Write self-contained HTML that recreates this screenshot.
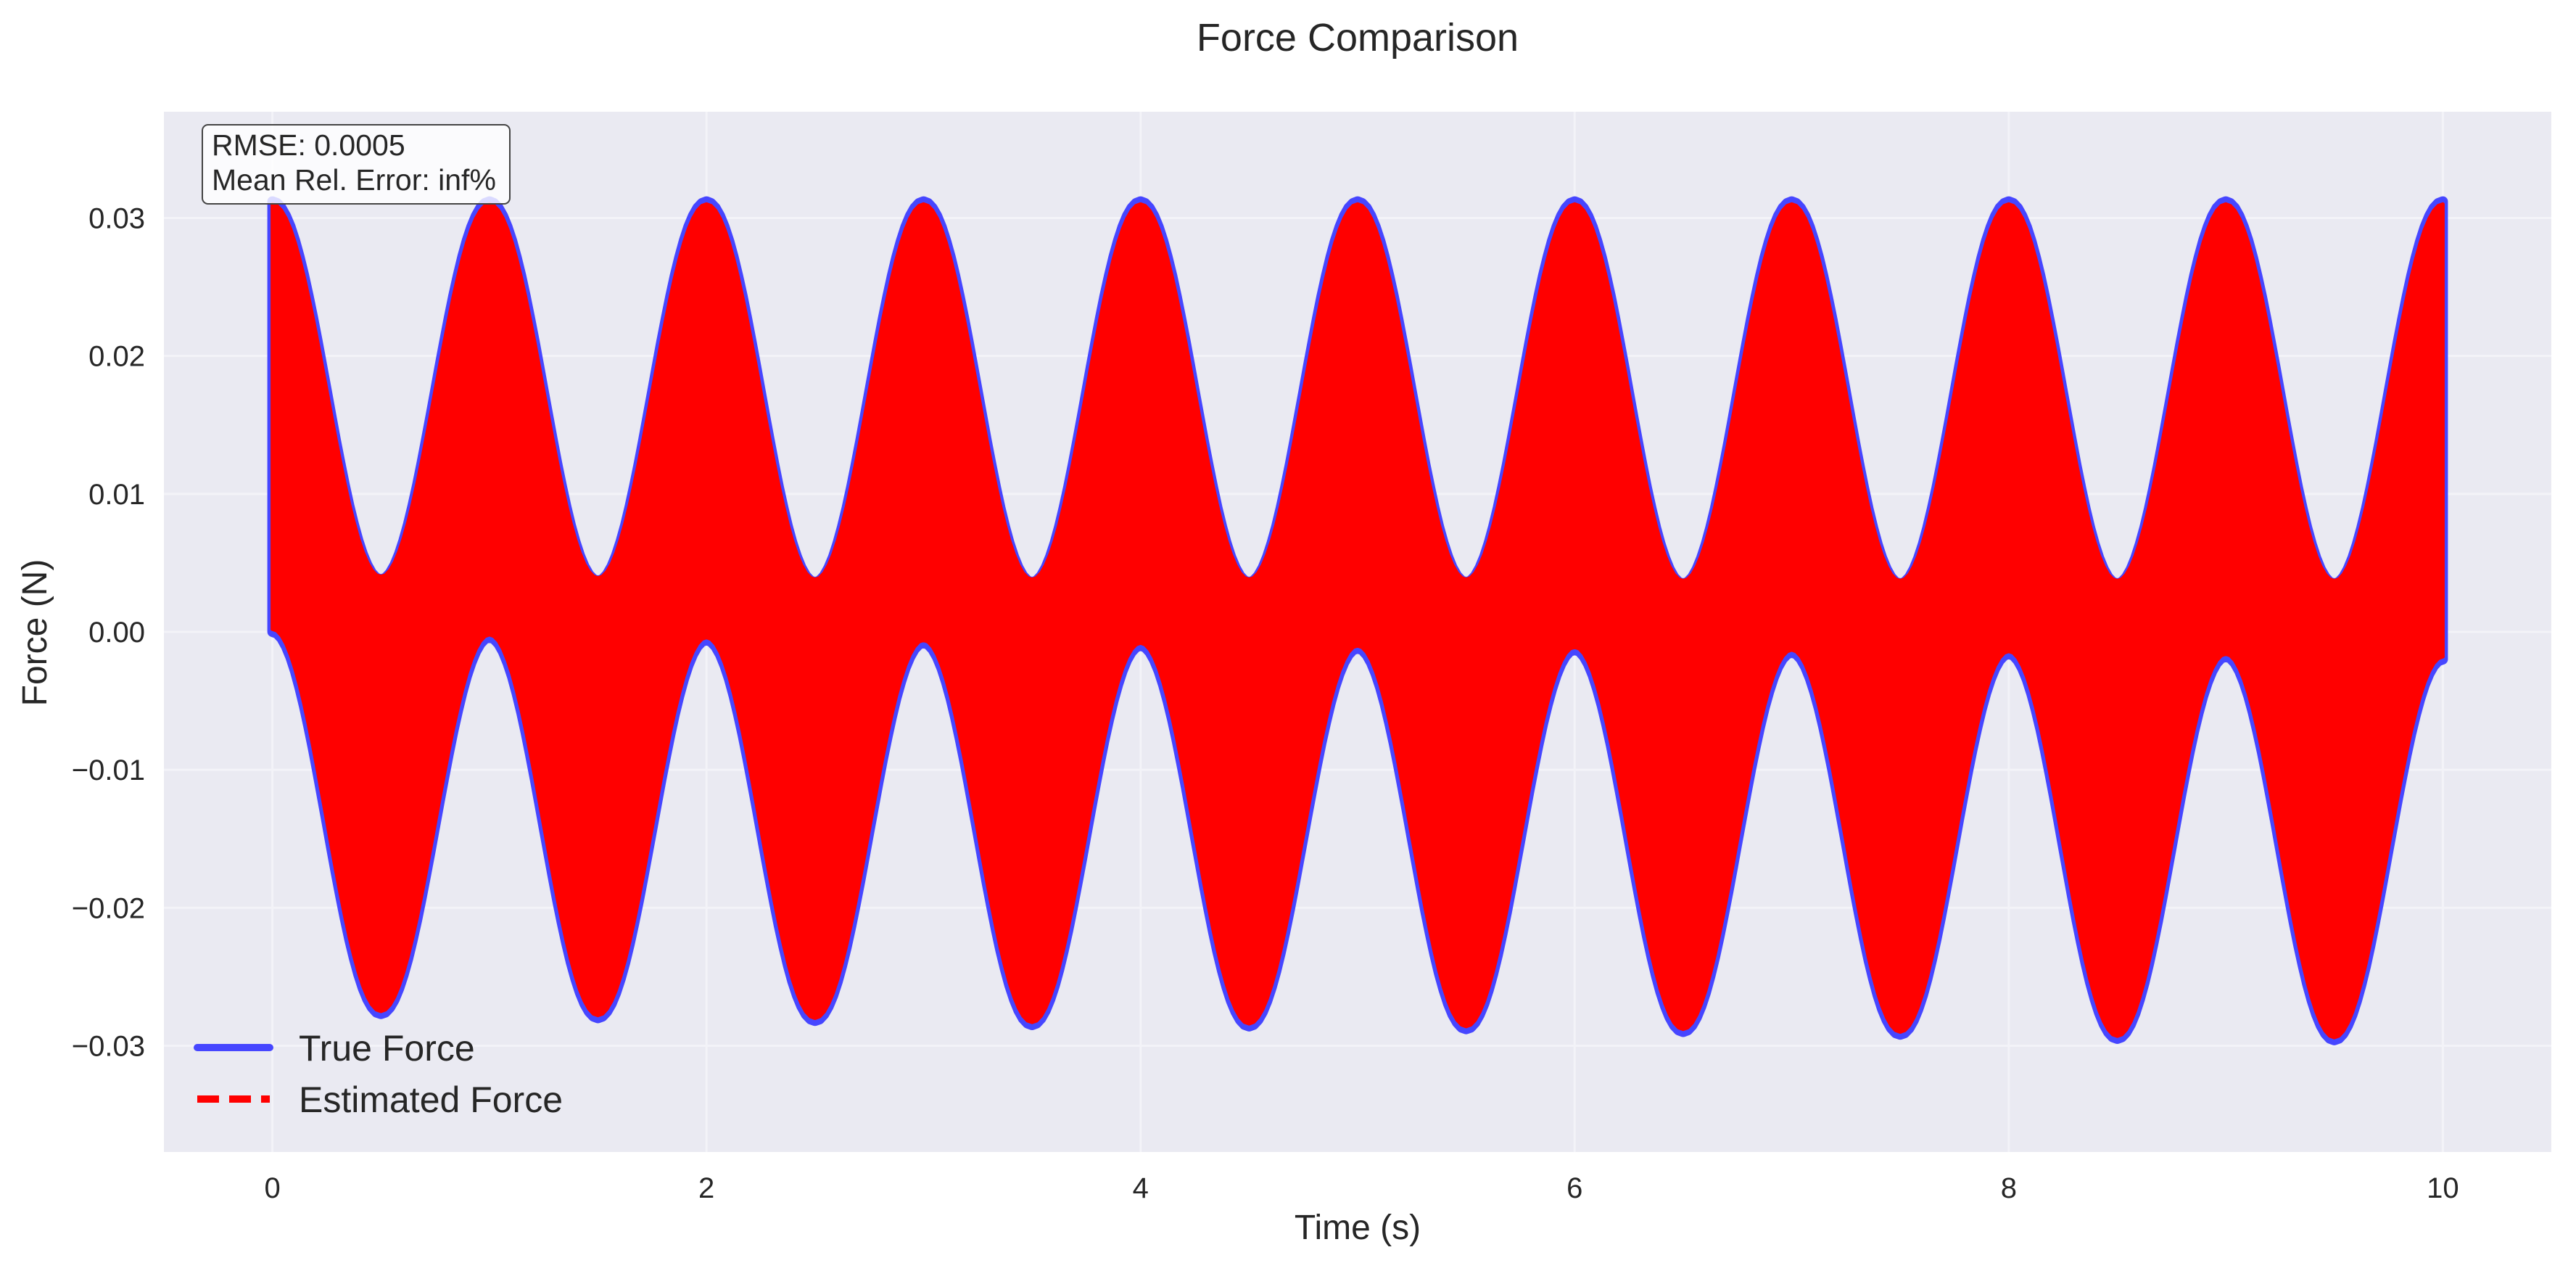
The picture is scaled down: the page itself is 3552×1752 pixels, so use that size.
<!DOCTYPE html>
<html><head><meta charset="utf-8"><style>
html,body{margin:0;padding:0;background:#fff}
svg{display:block;font-family:"Liberation Sans",sans-serif}
</style></head><body>
<svg id="chart" width="3552" height="1752" viewBox="0 0 3552 1752">
<rect x="0" y="0" width="3552" height="1752" fill="#fff"/>
<text x="1872" y="70" text-anchor="middle" font-size="54" fill="#262626">Force Comparison</text>
<rect x="226" y="154" width="3292" height="1434" fill="#eaeaf2"/>
<g id="grid"></g>
<g id="series"></g>
<g id="ticks"></g>
<text x="1872" y="1708" text-anchor="middle" font-size="48" fill="#262626">Time (s)</text>
<text x="0" y="0" transform="translate(64,872) rotate(-90)" text-anchor="middle" font-size="48" fill="#262626">Force (N)</text>
<g>
<rect x="279" y="172" width="424" height="109" rx="8" fill="#fff" fill-opacity="0.8" stroke="#444" stroke-width="2"/>
<text x="292" y="214" font-size="41" fill="#262626">RMSE: 0.0005</text>
<text x="292" y="262" font-size="41" fill="#262626">Mean Rel. Error: inf%</text>
</g>
<g>
<g>
<line x1="272" y1="1444" x2="372" y2="1444" stroke="#4646ff" stroke-width="10" stroke-linecap="round"/>
<text x="412" y="1462" font-size="50" fill="#262626">True Force</text>
</g>
<g>
<line x1="272" y1="1515" x2="372" y2="1515" stroke="#ff0000" stroke-width="10" stroke-dasharray="30,14"/>
<text x="412" y="1533" font-size="50" fill="#262626">Estimated Force</text>
</g>
</g>
</svg>
<script>
// Envelope samples every 0.5 s (t = 0, 0.5, ..., 10)
const times = [0,0.5,1,1.5,2,2.5,3,3.5,4,4.5,5,5.5,6,6.5,7,7.5,8,8.5,9,9.5,10];
const trueUpper = [0.0312,0.0038,0.0312,0.0037,0.0312,0.0036,0.0312,0.0036,0.0312,0.0036,0.0312,0.0036,0.0312,0.0035,0.0312,0.0035,0.0312,0.0035,0.0312,0.0035,0.0312];
const trueLower = [0.0000,-0.0277,-0.0004,-0.0280,-0.0006,-0.0282,-0.0008,-0.0285,-0.0010,-0.0286,-0.0012,-0.0288,-0.0013,-0.0290,-0.0015,-0.0292,-0.0016,-0.0295,-0.0018,-0.0296,-0.0020];
const estUpper = [0.0310,0.0040,0.0310,0.0039,0.0310,0.0038,0.0310,0.0038,0.0310,0.0038,0.0310,0.0038,0.0310,0.0037,0.0310,0.0037,0.0310,0.0037,0.0310,0.0037,0.0310];
const estLower = [0.0002,-0.0275,-0.0002,-0.0278,-0.0004,-0.0280,-0.0006,-0.0283,-0.0008,-0.0284,-0.0010,-0.0286,-0.0011,-0.0288,-0.0013,-0.0290,-0.0014,-0.0293,-0.0016,-0.0294,-0.0018];
const xTicks = [0,2,4,6,8,10];
const yTicks = [-0.03,-0.02,-0.01,0.00,0.01,0.02,0.03];
const yTickLabels = ["\u22120.03","\u22120.02","\u22120.01","0.00","0.01","0.02","0.03"];

const NS="http://www.w3.org/2000/svg";
const X0=226,X1=3518,Y0=154,Y1=1588;
const xMin=-0.5,xMax=10.5,yMin=-0.0377,yMax=0.0377;
const xs=v=>X0+(v-xMin)/(xMax-xMin)*(X1-X0);
const ys=v=>Y1-(v-yMin)/(yMax-yMin)*(Y1-Y0);
function mk(tag,attrs,parent){const e=document.createElementNS(NS,tag);for(const k in attrs)e.setAttribute(k,attrs[k]);parent.appendChild(e);return e;}
const grid=document.getElementById('grid'),series=document.getElementById('series'),ticks=document.getElementById('ticks');

xTicks.forEach(v=>{
  const l=mk('line',{x1:xs(v),x2:xs(v),y1:Y0,y2:Y1,stroke:'#f3f3f8','stroke-width':3},grid);
  
  
  const t=mk('text',{x:xs(v),y:1651,'text-anchor':'middle','font-size':40,fill:'#262626'},ticks);
  t.textContent=String(v);
  
  
});
yTicks.forEach((v,i)=>{
  const l=mk('line',{x1:X0,x2:X1,y1:ys(v),y2:ys(v),stroke:'#f3f3f8','stroke-width':3},grid);
  
  
  const t=mk('text',{x:200,y:ys(v)+14,'text-anchor':'end','font-size':40,fill:'#262626'},ticks);
  t.textContent=yTickLabels[i];
  
  
});

// smooth (cosine) rendering between adjacent envelope samples
function envPts(tArr,vArr){
  const pts=[];
  for(let i=0;i<tArr.length-1;i++){
    const n=24;
    for(let k=0;k<n;k++){
      const f=k/n,m=(1-Math.cos(Math.PI*f))/2;
      pts.push([xs(tArr[i]+(tArr[i+1]-tArr[i])*f),ys(vArr[i]+(vArr[i+1]-vArr[i])*m)]);
    }
  }
  pts.push([xs(tArr[tArr.length-1]),ys(vArr[vArr.length-1])]);
  return pts;
}
function band(up,lo,color,sw,name){
  const u=envPts(times,up),l=envPts(times,lo).reverse();
  const d='M'+u.concat(l).map(p=>p[0].toFixed(1)+','+p[1].toFixed(1)).join('L')+'Z';
  const p=mk('path',{d:d,fill:color,stroke:color,'stroke-width':sw,'stroke-linejoin':'round'},series);
  
  
}
band(trueUpper,trueLower,'#4646ff',14,'true-force-series');
band(estUpper,estLower,'#ff0000',5,'estimated-force-series');
</script>
</body></html>
